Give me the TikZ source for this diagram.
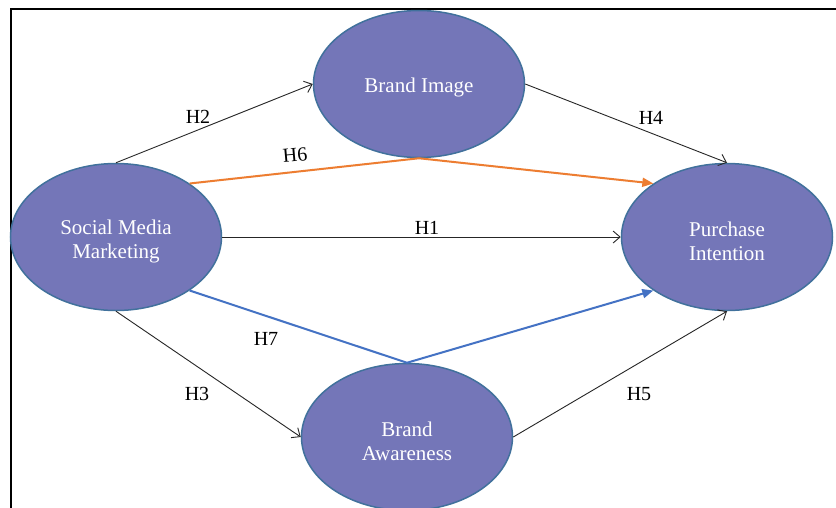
\documentclass[tikz,border=0pt]{standalone}
\usepackage{fontspec}
\setmainfont{Liberation Serif}
\usetikzlibrary{shapes.geometric,arrows.meta}
\definecolor{ellfill}{RGB}{116,118,184}
\definecolor{elldraw}{RGB}{65,113,156}
\definecolor{hsorange}{RGB}{237,125,49}
\definecolor{hsblue}{RGB}{68,114,196}
\begin{document}
\begin{tikzpicture}[x=1pt,y=-1pt,
  construct/.style={ellipse,fill=ellfill,draw=elldraw,line width=1.5pt,inner sep=0pt,
    minimum width=211pt,minimum height=147pt},
  constructtext/.style={text=white,align=center,inner sep=0pt,
    font=\fontsize{21}{24}\selectfont},
  hlabel/.style={font=\fontsize{20}{24}\selectfont,inner sep=0pt},
  blackarrow/.style={draw=black!85,line width=0.9pt,-{Straight Barb[length=7pt,width=12pt,line width=0.9pt]}},
  colorarrow/.style={line width=2pt,-{Triangle[length=11pt,width=9pt]}}]
\useasboundingbox (0,0) rectangle (836,507);
\fill[white] (0,0) rectangle (836,507);
\draw[line width=2pt] (11,510) -- (11,9) -- (840,9);

\node[construct] (smm) at (116,237) {};
\node[construct] (bi) at (419,84) {};
\node[construct] (pi) at (727,237) {};
\node[construct] (ba) at (407,437) {};
\node[constructtext] (smmt) at ([yshift=-4pt]smm.center) {Social Media\\Marketing};
\node[constructtext] (bit) at ([yshift=-3pt]bi.center) {Brand Image};
\node[constructtext] (pit) at ([yshift=-4pt]pi.center) {Purchase\\Intention};
\node[constructtext] (bat) at ([yshift=-4pt]ba.center) {Brand\\Awareness};

\draw[blackarrow] (smm.north) -- (bi.west);
\draw[blackarrow] (bi.east) -- (pi.north);
\draw[blackarrow] (smm.south) -- (ba.west);
\draw[blackarrow] (ba.east) -- (pi.south);
\draw[blackarrow] (smm.east) -- (pi.west);
\draw[colorarrow,hsorange] (smm.36) -- (bi.south) -- (pi.144);
\draw[colorarrow,hsblue] (smm.-36) -- (ba.north) -- (pi.-144);

\node[hlabel] (h2) at (198,117) {H2};
\node[hlabel,rotate=5] (h6) at (295,155) {H6};
\node[hlabel] (h4) at (651,118) {H4};
\node[hlabel] (h1) at (427,228) {H1};
\node[hlabel] (h7) at (266,339) {H7};
\node[hlabel] (h3) at (197,394) {H3};
\node[hlabel] (h5) at (639,394) {H5};
\end{tikzpicture}
\end{document}
